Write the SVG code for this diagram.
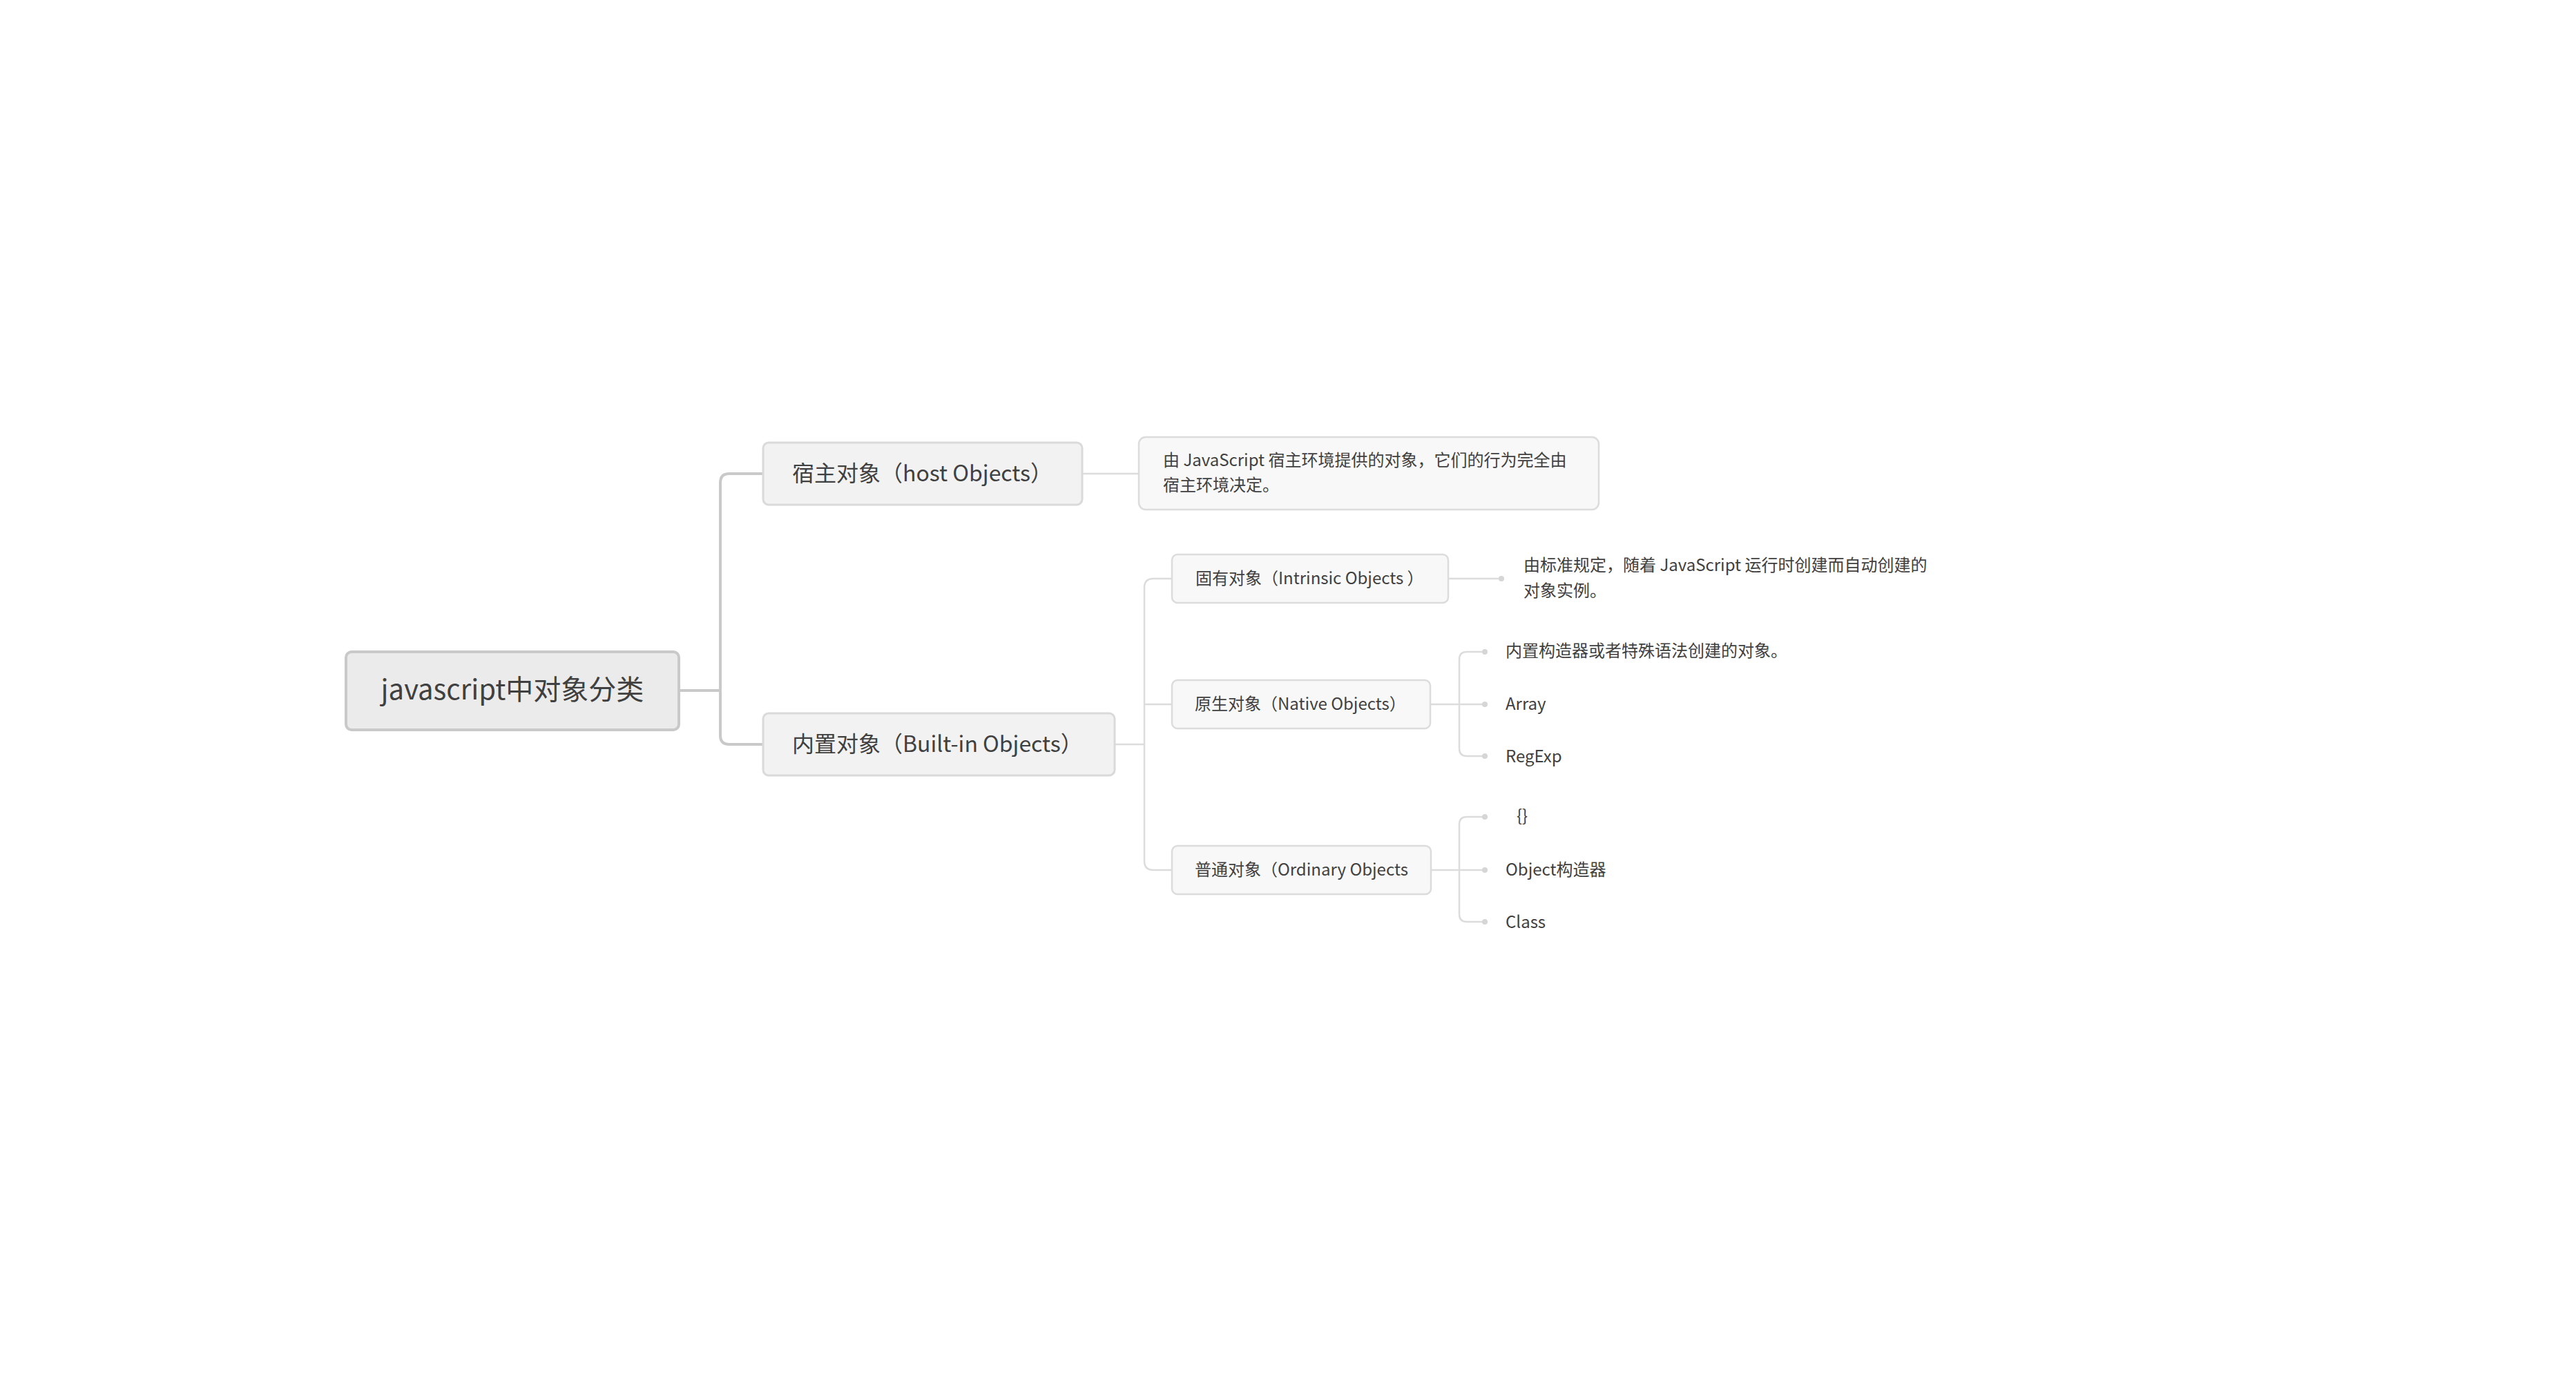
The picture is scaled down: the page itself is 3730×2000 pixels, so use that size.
<svg xmlns="http://www.w3.org/2000/svg" width="3730" height="2000" viewBox="0 0 3730 2000">
<defs>
<style>
text{font-family:"Noto Sans CJK SC","Noto Sans",sans-serif;fill:#404040;dominant-baseline:central}
.root rect{fill:#ebebeb;stroke:#c9c9c9;stroke-width:4}
.l1 rect{fill:#f2f2f2;stroke:#dadada;stroke-width:3}
.l2 rect{fill:#f8f8f8;stroke:#dcdcdc;stroke-width:2.5}
.main{fill:none;stroke:#c9c9c9;stroke-width:4}
.sub{fill:none;stroke:#dcdcdc;stroke-width:2.5}
.dot{fill:#d6d6d6}
.t40{font-size:40px}.t32{font-size:32px}.t24{font-size:24px}
</style>
</defs>
<rect width="3730" height="2000" fill="#fff"/>
<g id="connectors">
<path class="main" d="M983 1000 H1043 M1105 686 H1056 Q1043 686 1043 699 V1065 Q1043 1078 1056 1078 H1105"/>
<path class="sub" d="M1567 686 H1649"/>
<path class="sub" d="M1614 1078 H1657 M1697 838 H1670 Q1657 838 1657 851 V1247 Q1657 1260 1670 1260 H1697 M1657 1020 H1697"/>
<path class="sub" d="M2097 838 H2174"/>
<path class="sub" d="M2071 1020 H2150 M2150 944 H2124 Q2113 944 2113 955 V1084 Q2113 1095 2124 1095 H2150"/>
<path class="sub" d="M2072 1260 H2150 M2150 1183 H2124 Q2113 1183 2113 1194 V1324 Q2113 1335 2124 1335 H2150"/>
<circle class="dot" cx="2174" cy="838" r="4"/>
<circle class="dot" cx="2150" cy="944" r="4"/>
<circle class="dot" cx="2150" cy="1020" r="4"/>
<circle class="dot" cx="2150" cy="1095" r="4"/>
<circle class="dot" cx="2150" cy="1183" r="4"/>
<circle class="dot" cx="2150" cy="1260" r="4"/>
<circle class="dot" cx="2150" cy="1335" r="4"/>
</g>
<g id="root" class="root">
<rect x="501" y="944" width="482" height="113" rx="8"/>
<text class="t40" x="742" y="996" text-anchor="middle">javascript中对象分类</text>
</g>
<g id="host" class="l1">
<rect x="1105" y="641" width="462" height="90" rx="8"/>
<text class="t32" x="1147" y="683">宿主对象（host Objects）</text>
</g>
<g id="host-desc" class="l2">
<rect x="1649" y="633" width="666" height="105" rx="10"/>
<text class="t24" x="1684" y="664">由 JavaScript 宿主环境提供的对象，它们的行为完全由</text>
<text class="t24" x="1684" y="700">宿主环境决定。</text>
</g>
<g id="builtin" class="l1">
<rect x="1105" y="1033" width="509" height="90" rx="8"/>
<text class="t32" x="1147" y="1075">内置对象（Built-in Objects）</text>
</g>
<g id="intrinsic" class="l2">
<rect x="1697" y="803" width="400" height="70" rx="8"/>
<text class="t24" x="1731" y="835">固有对象（Intrinsic Objects ）</text>
</g>
<g id="intrinsic-desc">
<text class="t24" x="2206" y="816">由标准规定，随着 JavaScript 运行时创建而自动创建的</text>
<text class="t24" x="2206" y="853">对象实例。</text>
</g>
<g id="native" class="l2">
<rect x="1697" y="985" width="374" height="70" rx="8"/>
<text class="t24" x="1730" y="1017">原生对象（Native Objects）</text>
</g>
<g id="native-1"><text class="t24" x="2180" y="940">内置构造器或者特殊语法创建的对象。</text></g>
<g id="native-2"><text class="t24" x="2180" y="1017">Array</text></g>
<g id="native-3"><text class="t24" x="2180" y="1093">RegExp</text></g>
<g id="ordinary" class="l2">
<rect x="1697" y="1225" width="375" height="70" rx="8"/>
<text class="t24" x="1730" y="1257">普通对象（Ordinary Objects</text>
</g>
<g id="ordinary-1"><text class="t24" x="2196" y="1179">{}</text></g>
<g id="ordinary-2"><text class="t24" x="2180" y="1257">Object构造器</text></g>
<g id="ordinary-3"><text class="t24" x="2180" y="1333">Class</text></g>
</svg>
